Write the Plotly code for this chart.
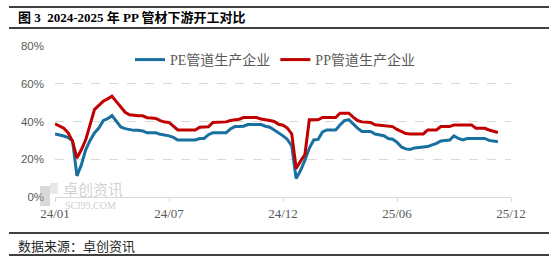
import plotly.graph_objects as go

# ---- data (weekly observations, Jan 2024 - Dec 2025) ----
pe_values = [
    33.4, 33.0, 32.3, 31.5, 29.8, 11.2, 17.0, 25.0, 30.0, 33.9,
    36.5, 40.4, 41.5, 43.1, 40.0, 37.1, 36.2, 35.7, 35.3, 35.3,
    35.0, 34.0, 34.0, 34.0, 33.2, 32.8, 32.4, 31.6, 30.2, 30.2,
    30.2, 30.2, 30.2, 31.0, 31.0, 33.0, 34.0, 34.0, 34.0, 34.0,
    36.0, 37.3, 37.3, 37.5, 38.4, 38.4, 38.4, 38.4, 37.5, 37.0,
    35.5, 34.0, 32.4, 30.5, 27.0, 9.8, 14.0, 19.5, 25.8, 30.2,
    30.5, 34.5, 35.5, 35.5, 35.5, 38.2, 40.5, 41.0, 38.5, 36.5,
    34.7, 34.7, 34.7, 33.4, 33.0, 32.5, 31.0, 30.6, 29.0, 26.5,
    25.5, 25.2, 26.0, 26.3, 26.5, 26.7, 27.6, 28.4, 29.7, 29.8,
    30.2, 32.4, 31.0, 30.2, 31.0, 31.0, 31.0, 31.0, 31.0, 30.0,
    29.8, 29.3,
]
pp_values = [
    38.7, 37.8, 36.5, 34.0, 29.5, 20.6, 25.0, 30.3, 39.0, 46.3,
    48.5, 50.7, 52.0, 53.4, 50.5, 47.5, 44.9, 43.6, 43.2, 43.0,
    43.0, 42.0, 41.8, 41.6, 40.5, 39.7, 39.5, 37.3, 35.5, 35.5,
    35.5, 35.5, 35.5, 37.0, 37.0, 37.2, 39.5, 39.6, 39.8, 39.8,
    40.5, 40.9, 41.2, 42.1, 42.1, 42.1, 42.1, 41.3, 41.0, 40.5,
    40.0, 38.5, 38.0, 36.5, 33.4, 15.1, 19.0, 22.5, 40.9, 40.9,
    40.9, 42.1, 42.1, 42.1, 42.1, 44.4, 44.4, 44.4, 42.3, 40.5,
    39.8, 39.7, 39.5, 38.3, 38.0, 37.7, 37.5, 37.3, 35.8, 34.5,
    33.6, 33.4, 33.4, 33.4, 33.4, 35.5, 35.5, 35.5, 37.3, 37.3,
    37.3, 38.2, 38.2, 38.2, 38.2, 38.2, 36.4, 36.4, 36.4, 35.5,
    35.0, 34.2,
]
series_names = ["PE管道生产企业", "PP管道生产企业"]
tick_labels = ["24/01", "24/07", "24/12", "25/06", "25/12"]
tick_positions = [0, 26, 52, 78, 104]
y_ticks = [0, 20, 40, 60, 80]

title_text = "图 3  2024-2025 年 PP 管材下游开工对比"
source_text = "数据来源：卓创资讯"

W, H = 555, 261
L, R, T, B = 55, 44, 46, 64
PW, PH = W - L - R, H - T - B


def px(x):
    return (x - L) / PW


def py(y):
    return (H - B - y) / PH


x_idx = list(range(len(pe_values)))

fig = go.Figure()
fig.add_trace(go.Scatter(x=x_idx, y=pe_values, mode="lines", name=series_names[0],
                         line=dict(color="#17709f", width=3)))
fig.add_trace(go.Scatter(x=x_idx, y=pp_values, mode="lines", name=series_names[1],
                         line=dict(color="#c00000", width=3)))

rule = dict(color="#3f3f3f", width=2)
shapes = []
for yy in (7, 28, 233, 255):
    shapes.append(dict(type="line", xref="paper", yref="paper",
                       x0=px(9), x1=px(549), y0=py(yy), y1=py(yy), line=rule))
# watermark logo blocks
shapes.append(dict(type="rect", xref="paper", yref="paper", x0=px(40), x1=px(50),
                   y0=py(206), y1=py(186), fillcolor="rgba(170,170,170,0.45)", line=dict(width=0),
                   layer="above"))
shapes.append(dict(type="rect", xref="paper", yref="paper", x0=px(50), x1=px(58),
                   y0=py(194), y1=py(183), fillcolor="rgba(190,190,190,0.35)", line=dict(width=0),
                   layer="above"))

annotations = [
    dict(text="<b>" + title_text + "</b>", xref="paper", yref="paper", x=px(16), y=py(18),
         xanchor="left", yanchor="middle", showarrow=False,
         font=dict(family="Liberation Serif, Noto Sans CJK SC", size=13, color="#000000")),
    dict(text=source_text, xref="paper", yref="paper", x=px(16), y=py(245),
         xanchor="left", yanchor="middle", showarrow=False,
         font=dict(family="Noto Sans CJK SC", size=13, color="#262626")),
    dict(text="卓创资讯", xref="paper", yref="paper", x=px(62), y=py(188),
         xanchor="left", yanchor="middle", showarrow=False, borderpad=0,
         font=dict(family="Noto Sans CJK SC", size=15, color="rgba(170,170,170,0.55)")),
    dict(text="SCI99.COM", xref="paper", yref="paper", x=px(64), y=py(205),
         xanchor="left", yanchor="middle", showarrow=False, borderpad=0,
         font=dict(family="Liberation Serif", size=10, color="rgba(170,170,170,0.6)")),
]

fig.update_layout(
    width=W, height=H,
    margin=dict(l=L, r=R, t=T, b=B, pad=0),
    paper_bgcolor="white", plot_bgcolor="white",
    showlegend=True,
    legend=dict(orientation="h", x=px(130), y=py(60), xanchor="left", yanchor="middle",
                font=dict(family="Liberation Serif, Noto Sans CJK SC", size=14, color="#595959"),
                bgcolor="rgba(0,0,0,0)", borderwidth=0, itemwidth=30, tracegroupgap=0),
    shapes=shapes,
    annotations=annotations,
    xaxis=dict(range=[0, 104], tickmode="array", tickvals=tick_positions, ticktext=tick_labels,
               showgrid=False, zeroline=False, showline=True, linecolor="#d9d9d9", linewidth=1,
               ticks="outside", ticklen=4, tickcolor="#d9d9d9",
               tickfont=dict(family="Liberation Serif", size=13, color="#595959")),
    yaxis=dict(range=[0, 80], tickmode="array", tickvals=y_ticks,
               ticktext=[f"{v}%" for v in y_ticks],
               showgrid=True, gridcolor="#d9d9d9", griddash="dash", gridwidth=1,
               zeroline=False, showline=False, ticks="", ticklabelstandoff=10,
               tickfont=dict(family="Liberation Sans", size=11.5, color="#595959")),
)

fig.write_html("out.html")
